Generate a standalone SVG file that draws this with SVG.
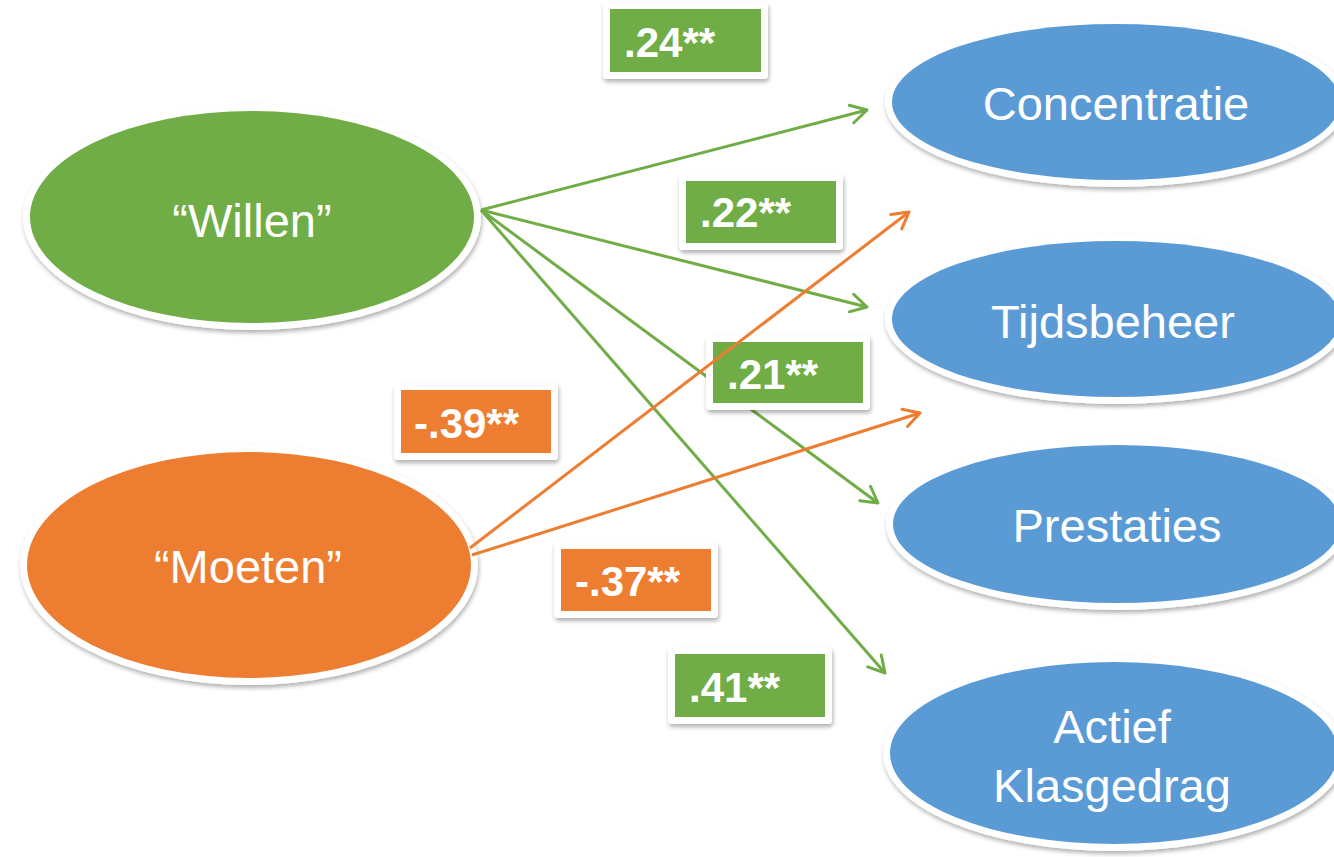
<svg xmlns="http://www.w3.org/2000/svg" width="1334" height="857" viewBox="0 0 1334 857">
<defs>
<filter id="shadow" x="-10%" y="-10%" width="120%" height="130%">
<feDropShadow dx="1" dy="3" stdDeviation="2" flood-color="#000" flood-opacity="0.3"/>
</filter>
<marker id="arrowG" markerUnits="userSpaceOnUse" viewBox="-20 -12 24 24" markerWidth="24" markerHeight="24" refX="0" refY="0" orient="auto" overflow="visible">
<path d="M-16,-9 L0,0 L-16,9" fill="none" stroke="#70AD47" stroke-width="3" stroke-linecap="round" stroke-linejoin="round"/>
</marker>
<marker id="arrowO" markerUnits="userSpaceOnUse" viewBox="-20 -12 24 24" markerWidth="24" markerHeight="24" refX="0" refY="0" orient="auto" overflow="visible">
<path d="M-16,-9 L0,0 L-16,9" fill="none" stroke="#ED7D31" stroke-width="3" stroke-linecap="round" stroke-linejoin="round"/>
</marker>
</defs>
<style>
.halo{fill:#fff;filter:url(#shadow)}
.green{fill:#70AD47}
.orange{fill:#ED7D31}
.blue{fill:#5B9BD5}
.nt{font-family:"Liberation Sans",Arial,sans-serif;font-size:47px;fill:#fff;text-anchor:middle}
.lt{font-family:"Liberation Sans",Arial,sans-serif;font-size:42px;font-weight:bold;fill:#fff}
.eg{stroke:#70AD47;stroke-width:3;fill:none;marker-end:url(#arrowG)}
.eo{stroke:#ED7D31;stroke-width:3;fill:none;marker-end:url(#arrowO)}
</style>
<rect width="1334" height="857" fill="#fff"/>

<g id="node-willen">
<ellipse class="halo" cx="252" cy="217" rx="229" ry="113"/>
<ellipse class="green" cx="252" cy="217" rx="222" ry="106"/>
<text class="nt" x="252" y="237">“Willen”</text>
</g>
<g id="node-moeten">
<ellipse class="halo" cx="249" cy="565" rx="229" ry="120"/>
<ellipse class="orange" cx="249" cy="565" rx="222" ry="113"/>
<text class="nt" x="248" y="583">“Moeten”</text>
</g>
<g id="node-concentratie">
<ellipse class="halo" cx="1116" cy="102" rx="231" ry="85"/>
<ellipse class="blue" cx="1116" cy="102" rx="224" ry="78"/>
<text class="nt" x="1116" y="120">Concentratie</text>
</g>
<g id="node-tijdsbeheer">
<ellipse class="halo" cx="1116" cy="319" rx="231" ry="85"/>
<ellipse class="blue" cx="1116" cy="319" rx="224" ry="78"/>
<text class="nt" x="1113" y="338">Tijdsbeheer</text>
</g>
<g id="node-prestaties">
<ellipse class="halo" cx="1117" cy="524" rx="231" ry="86"/>
<ellipse class="blue" cx="1117" cy="524" rx="224" ry="79"/>
<text class="nt" x="1117" y="542">Prestaties</text>
</g>
<g id="node-actief">
<ellipse class="halo" cx="1114" cy="753" rx="231" ry="98"/>
<ellipse class="blue" cx="1114" cy="753" rx="224" ry="91"/>
<text class="nt" x="1112" y="743">Actief</text>
<text class="nt" x="1112" y="802">Klasgedrag</text>
</g>

<g id="connectors-willen">
<line class="eg" x1="481" y1="210" x2="867" y2="110"/>
<line class="eg" x1="481" y1="210" x2="867" y2="307"/>
<line class="eg" x1="481" y1="210" x2="878" y2="503"/>
<line class="eg" x1="481" y1="210" x2="885" y2="673"/>
</g>

<g id="label-24">
<rect class="halo" x="603" y="2" width="165" height="77" rx="4"/>
<rect class="green" x="610" y="9" width="151" height="63"/>
<text class="lt" x="624" y="57">.24**</text>
</g>
<g id="label-22">
<rect class="halo" x="679" y="174" width="164" height="76" rx="4"/>
<rect class="green" x="686" y="181" width="150" height="62"/>
<text class="lt" x="700" y="227">.22**</text>
</g>
<g id="label-21">
<rect class="halo" x="706" y="335" width="164" height="75" rx="4"/>
<rect class="green" x="713" y="342" width="150" height="61"/>
<text class="lt" x="727" y="389">.21**</text>
</g>
<g id="label-39">
<rect class="halo" x="394" y="383" width="164" height="77" rx="4"/>
<rect class="orange" x="401" y="390" width="150" height="63"/>
<text class="lt" x="414" y="438">-.39**</text>
</g>
<g id="label-37">
<rect class="halo" x="554" y="542" width="164" height="76" rx="4"/>
<rect class="orange" x="561" y="549" width="150" height="62"/>
<text class="lt" x="575" y="596">-.37**</text>
</g>
<g id="label-41">
<rect class="halo" x="668" y="647" width="164" height="77" rx="4"/>
<rect class="green" x="675" y="654" width="150" height="63"/>
<text class="lt" x="689" y="702">.41**</text>
</g>

<g id="connectors-moeten">
<line class="eo" x1="470" y1="548" x2="909" y2="212"/>
<line class="eo" x1="472" y1="555" x2="920" y2="413"/>
</g>
</svg>
